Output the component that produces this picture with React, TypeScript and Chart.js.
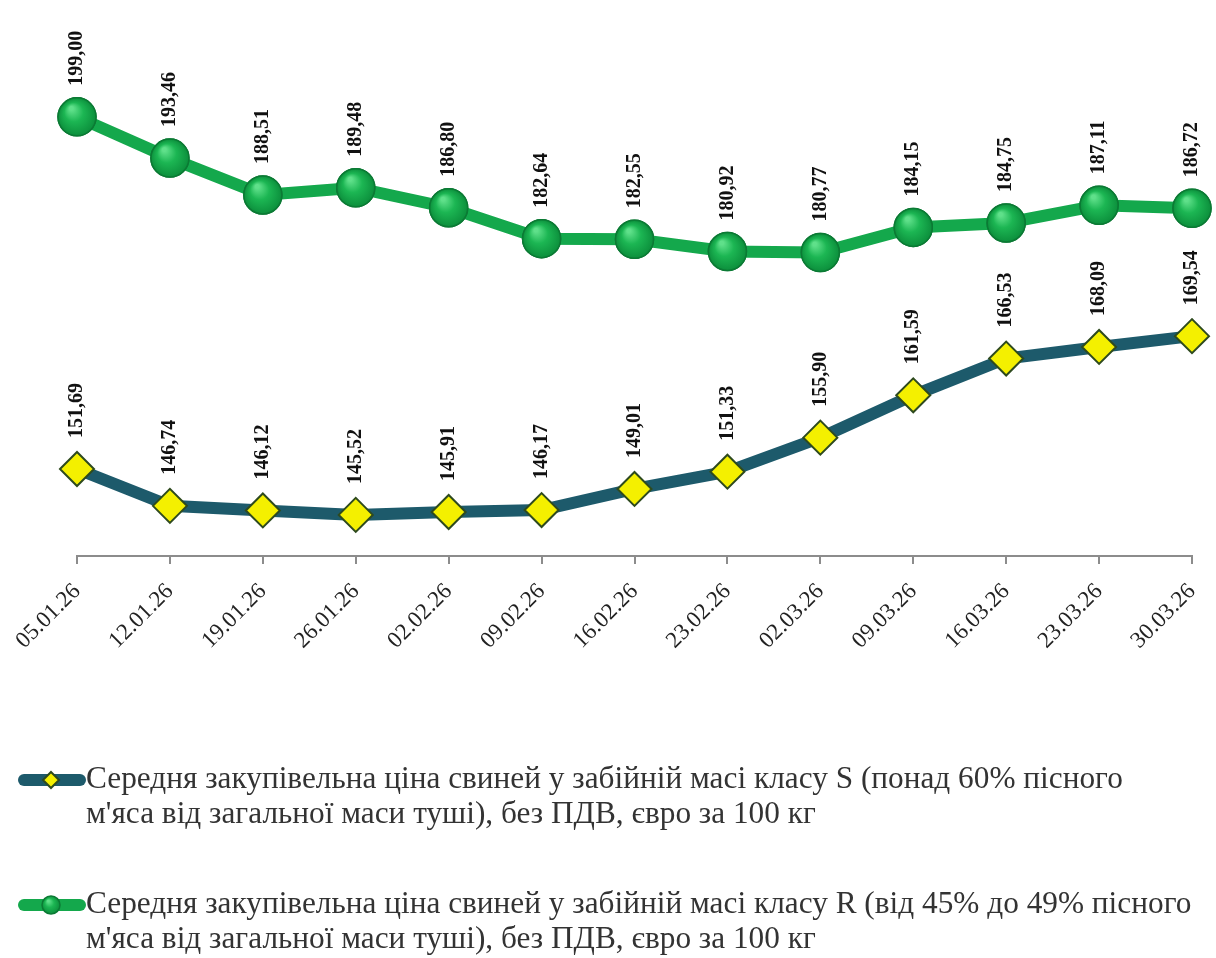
import React, { useEffect, useRef } from "react";
import { Chart, registerables } from "chart.js";

Chart.register(...registerables);

const dates = [
  "05.01.26", "12.01.26", "19.01.26", "26.01.26", "02.02.26", "09.02.26", "16.02.26",
  "23.02.26", "02.03.26", "09.03.26", "16.03.26", "23.03.26", "30.03.26",
];
const classS = [151.69, 146.74, 146.12, 145.52, 145.91, 146.17, 149.01, 151.33, 155.9, 161.59, 166.53, 168.09, 169.54];
const classR = [199.0, 193.46, 188.51, 189.48, 186.8, 182.64, 182.55, 180.92, 180.77, 184.15, 184.75, 187.11, 186.72];

const legendS = [
  "Середня закупівельна ціна свиней у забійній масі класу S (понад 60% пісного",
  "м'яса від загальної маси туші), без ПДВ, євро за 100 кг",
];
const legendR = [
  "Середня закупівельна ціна свиней у забійній масі класу R (від 45% до 49% пісного",
  "м'яса від загальної маси туші), без ПДВ, євро за 100 кг",
];

const TEAL = "#1d5a6b";
const GREEN = "#14a84c";
const FONT = "'Liberation Serif', 'Times New Roman', serif";

const fmt = (v: number) => v.toFixed(2).replace(".", ",");

const drawDiamond = (ctx: CanvasRenderingContext2D, x: number, y: number, r: number) => {
  ctx.beginPath();
  ctx.moveTo(x, y - r);
  ctx.lineTo(x + r, y);
  ctx.lineTo(x, y + r);
  ctx.lineTo(x - r, y);
  ctx.closePath();
  ctx.fillStyle = "#f4f000";
  ctx.fill();
  ctx.lineWidth = 2;
  ctx.strokeStyle = "#2e4a1e";
  ctx.stroke();
};

const drawBall = (ctx: CanvasRenderingContext2D, x: number, y: number, r: number) => {
  ctx.beginPath();
  ctx.arc(x, y, r, 0, Math.PI * 2);
  const g = ctx.createRadialGradient(x - r * 0.3, y - r * 0.45, r * 0.1, x, y, r);
  g.addColorStop(0, "#5fe08a");
  g.addColorStop(0.45, "#1cb653");
  g.addColorStop(1, "#0c8f3c");
  ctx.fillStyle = g;
  ctx.fill();
  ctx.lineWidth = 1.5;
  ctx.strokeStyle = "#0b7a34";
  ctx.stroke();
};

const overlayPlugin = {
  id: "overlay",
  afterDatasetsDraw(chart: any) {
    const ctx = chart.ctx as CanvasRenderingContext2D;
    ctx.save();
    const metaR = chart.getDatasetMeta(1);
    metaR.data.forEach((p: any) => drawBall(ctx, p.x, p.y, 19));
    [0, 1].forEach((di) => {
      const meta = chart.getDatasetMeta(di);
      const data = chart.data.datasets[di].data as number[];
      meta.data.forEach((p: any, i: number) => {
        ctx.save();
        ctx.translate(p.x, p.y - 31);
        ctx.rotate(-Math.PI / 2);
        ctx.font = `bold 20px ${FONT}`;
        ctx.fillStyle = "#111";
        ctx.textAlign = "left";
        ctx.textBaseline = "middle";
        ctx.fillText(fmt(data[i]), 0, 0);
        ctx.restore();
      });
    });
    ctx.restore();
  },
  afterDraw(chart: any) {
    const ctx = chart.ctx as CanvasRenderingContext2D;
    ctx.save();
    const items = [
      { lines: legendS, y: 780, color: TEAL, kind: "d" },
      { lines: legendR, y: 905, color: GREEN, kind: "b" },
    ];
    items.forEach((it) => {
      ctx.beginPath();
      ctx.lineCap = "round";
      ctx.lineWidth = 12;
      ctx.strokeStyle = it.color;
      ctx.moveTo(24, it.y);
      ctx.lineTo(80, it.y);
      ctx.stroke();
      if (it.kind === "d") drawDiamond(ctx, 51, it.y, 8);
      else drawBall(ctx, 51, it.y, 9);
      ctx.font = `31px ${FONT}`;
      ctx.fillStyle = "#333";
      ctx.textAlign = "left";
      ctx.textBaseline = "middle";
      it.lines.forEach((t, k) => {
        ctx.save();
        ctx.translate(86, it.y + k * 35);
        ctx.scale(1.01, 1);
        ctx.fillText(t, 0, 0);
        ctx.restore();
      });
    });
    ctx.restore();
  },
};

export default function App() {
  const ref = useRef<HTMLCanvasElement>(null);
  useEffect(() => {
    if (!ref.current) return;
    const chart = new Chart(ref.current, {
      type: "line",
      data: {
        labels: dates,
        datasets: [
          {
            label: "S",
            data: classS,
            borderColor: TEAL,
            borderWidth: 12,
            pointStyle: "rectRot",
            pointRadius: 17,
            pointBackgroundColor: "#f4f000",
            pointBorderColor: "#2e4a1e",
            pointBorderWidth: 2,
            tension: 0,
          },
          {
            label: "R",
            data: classR,
            borderColor: GREEN,
            borderWidth: 12,
            pointStyle: "circle",
            pointRadius: 19,
            pointBackgroundColor: "#1cb653",
            pointBorderColor: "#0b7a34",
            pointBorderWidth: 1.5,
            tension: 0,
          },
        ],
      },
      options: {
        animation: false,
        responsive: false,
        layout: { padding: { left: 77, right: 24, top: 35, bottom: 282 } },
        plugins: { legend: { display: false }, tooltip: { enabled: false } },
        scales: {
          y: { display: false, min: 140, max: 210 },
          x: {
            offset: false,
            afterFit: (s: any) => {
              s.height = 120;
              s.paddingRight = 0;
              s.paddingLeft = 0;
            },
            border: { display: true, color: "#8c8c8c", width: 2 },
            grid: { drawOnChartArea: false, drawTicks: true, tickLength: 8, color: "#8c8c8c", lineWidth: 2 },
            ticks: {
              minRotation: 45,
              maxRotation: 45,
              autoSkip: false,
              color: "#222",
              padding: 14,
              font: { family: FONT, size: 23 },
            },
          },
        },
      },
      plugins: [overlayPlugin],
    });
    return () => chart.destroy();
  }, []);
  return (
    <div style={{ position: "fixed", left: 0, top: 0, width: 1216, height: 958, background: "#fff" }}>
      <canvas ref={ref} width={1216} height={958} style={{ width: 1216, height: 958 }} />
    </div>
  );
}
